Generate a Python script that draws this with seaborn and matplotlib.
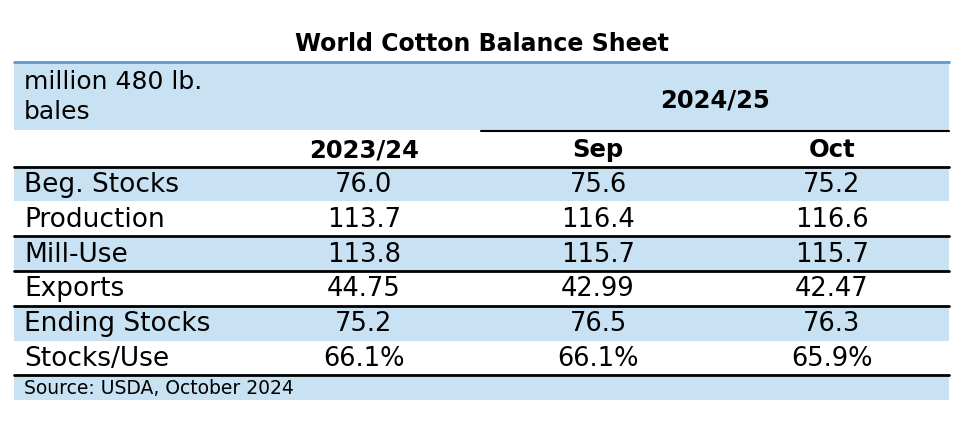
import matplotlib
matplotlib.use("Agg")
from matplotlib import pyplot as plt
from matplotlib.patches import Rectangle
import seaborn as sb

# table content
row_labels = ["Beg. Stocks", "Production", "Mill-Use", "Exports", "Ending Stocks", "Stocks/Use"]
col_2023 = ["76.0", "113.7", "113.8", "44.75", "75.2", "66.1%"]
col_sep = ["75.6", "116.4", "115.7", "42.99", "76.5", "66.1%"]
col_oct = ["75.2", "116.6", "115.7", "42.47", "76.3", "65.9%"]
col_heads = ["2023/24", "Sep", "Oct"]
title = "World Cotton Balance Sheet"
unit_label = "million 480 lb.\nbales"
season_label = "2024/25"
source = "Source: USDA, October 2024"

BLUE = "#c8e2f4"
LINE_BLUE = "#5b9bd5"
FONT = ["DejaVu Sans"]


def main():
    sb.set_theme(style="white")
    plt.rcParams["font.family"] = FONT
    plt.rcParams["text.color"] = "black"

    fig = plt.figure(figsize=(9.72, 4.22), dpi=100)
    ax = fig.add_axes([0, 0, 1, 1])
    ax.set_xlim(0, 972)
    ax.set_ylim(422, 0)
    ax.axis("off")

    left, right = 14, 949
    first_col = 247
    col_w = (right - first_col) / 3
    row_h = 34.8
    body_top = 166.5

    # title
    ax.text((left + right) / 2, 44, title, ha="center", va="center",
            fontsize=17, fontweight="bold")

    # header band
    ax.add_patch(Rectangle((left, 61), right - left, 69, color=BLUE, lw=0))
    ax.plot([left, right], [61.5, 61.5], color=LINE_BLUE, lw=2)
    ax.text(24, 97, unit_label, ha="left", va="center", fontsize=18,
            linespacing=1.3)
    ax.text(first_col + 2 * col_w, 100, season_label,
            ha="center", va="center", fontsize=17.5, fontweight="bold")
    ax.plot([first_col + col_w, right], [130.5, 130.5], color="black", lw=1.5)

    cols = [col_2023, col_sep, col_oct]
    centers = [first_col + col_w * (j + 0.5) for j in range(3)]
    for c, h in zip(centers, col_heads):
        ax.text(c, 150, h, ha="center", va="center", fontsize=17.5, fontweight="bold")
    ax.plot([left, right], [body_top, body_top], color="black", lw=2)

    for i, lab in enumerate(row_labels):
        top = body_top + i * row_h
        if i % 2 == 0:
            ax.add_patch(Rectangle((left, top + 1), right - left, row_h - 1,
                                   color=BLUE, lw=0))
        ym = top + row_h / 2 + 1
        ax.text(24, ym, lab, ha="left", va="center", fontsize=19)
        for c, vals in zip(centers, cols):
            ax.text(c, ym, vals[i], ha="center", va="center", fontsize=18.5)
        if i in (1, 2, 3, 5):
            yl = top + row_h
            ax.plot([left, right], [yl, yl], color="black", lw=2)

    src_top = body_top + len(row_labels) * row_h + 1
    ax.add_patch(Rectangle((left, src_top), right - left, 400 - src_top,
                           color=BLUE, lw=0))
    ax.text(24, (src_top + 400) / 2, source, ha="left", va="center", fontsize=13.5)

    fig.savefig("out.png", dpi=100, facecolor="white")


if __name__ == "__main__":
    main()
